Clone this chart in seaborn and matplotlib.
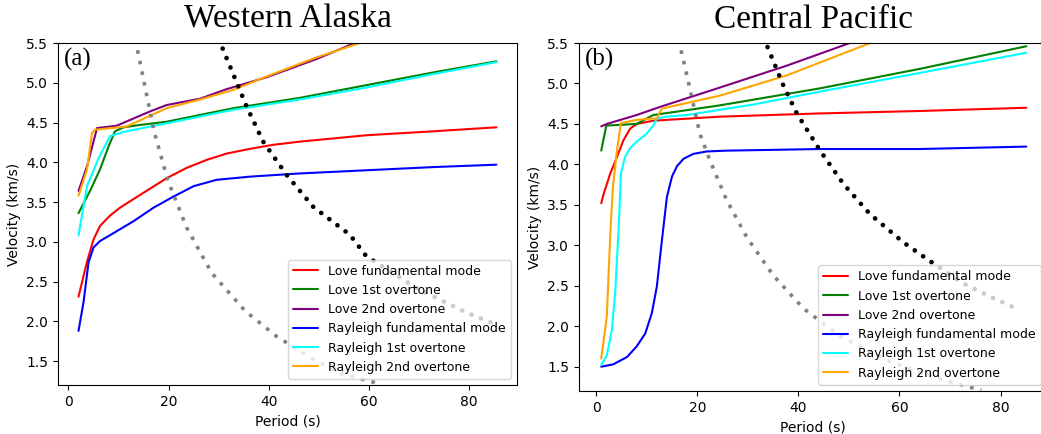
import matplotlib
matplotlib.use("Agg")
import matplotlib.pyplot as plt
import seaborn as sns
import pandas as pd

sns.set_style("ticks")
plt.rcParams['font.family'] = ['DejaVu Sans']
plt.rcParams['text.color'] = 'black'
plt.rcParams['axes.labelcolor'] = 'black'
plt.rcParams['xtick.color'] = 'black'
plt.rcParams['ytick.color'] = 'black'

labels = ["Love fundamental mode", "Love 1st overtone", "Love 2nd overtone",
          "Rayleigh fundamental mode", "Rayleigh 1st overtone", "Rayleigh 2nd overtone"]
colors = ["red", "green", "purple", "blue", "cyan", "orange"]

# ---- Western Alaska (a) ----
ak_love0_T = [2, 3.66, 5, 6.3, 8.3, 10.3, 14.3, 19.6, 23.6, 27.6, 31.6, 36.3, 40.9, 46.2, 59.5, 72.9, 85.5]
ak_love0_V = [2.31, 2.74, 3.03, 3.2, 3.33, 3.43, 3.59, 3.80, 3.93, 4.03, 4.11, 4.17, 4.22, 4.26, 4.34, 4.39, 4.44]
ak_love1_T = [2, 4.3, 6.3, 8, 9.3, 11, 14.3, 19.6, 32.9, 46.2, 59.5, 72.9, 85.5]
ak_love1_V = [3.36, 3.64, 3.91, 4.2, 4.39, 4.44, 4.47, 4.51, 4.68, 4.81, 4.97, 5.13, 5.27]
ak_love2_T = [2, 3.7, 5.7, 9.6, 16.3, 19.6, 26.3, 31.6, 39.6, 49.6, 57.2, 70, 85.5]
ak_love2_V = [3.64, 3.95, 4.43, 4.46, 4.64, 4.72, 4.80, 4.92, 5.07, 5.30, 5.50, 5.82, 6.2]
ak_ray0_T = [2, 3, 4, 5, 6.3, 9, 13, 17, 21, 25, 29.6, 36.3, 46.2, 59.5, 72.9, 85.5]
ak_ray0_V = [1.88, 2.24, 2.74, 2.93, 3.01, 3.11, 3.26, 3.43, 3.57, 3.70, 3.78, 3.82, 3.86, 3.90, 3.94, 3.97]
ak_ray1_T = [2, 3.7, 6, 8.3, 11.6, 19.6, 32.9, 46.2, 59.5, 72.9, 85.5]
ak_ray1_V = [3.08, 3.70, 4.05, 4.33, 4.39, 4.49, 4.66, 4.79, 4.94, 5.11, 5.26]
ak_ray2_T = [2, 3.7, 4.7, 5.3, 11.6, 19.6, 26.3, 32.9, 39.6, 49.6, 58.2, 70, 85.5]
ak_ray2_V = [3.58, 3.91, 4.37, 4.41, 4.45, 4.68, 4.79, 4.91, 5.08, 5.32, 5.50, 5.80, 6.2]
ak_gray_T = [13.8, 17.1, 19.8, 23.6, 28.6, 35.3, 41.6, 48.2, 54.6, 61.9]
ak_gray_V = [5.41, 4.39, 3.78, 3.18, 2.61, 2.13, 1.81, 1.55, 1.34, 1.22]
ak_black_T = [30.8, 35.6, 38.9, 43.6, 48.9, 56.2, 59.5, 69.5, 79.5, 85.5]
ak_black_V = [5.43, 4.70, 4.26, 3.84, 3.44, 3.09, 2.82, 2.42, 2.11, 1.96]

# ---- Central Pacific (b) ----
cp_love0_T = [1, 1.5, 2.8, 4.1, 5.4, 6.7, 8, 11.3, 24.5, 44.3, 64, 85.1]
cp_love0_V = [3.52, 3.64, 3.89, 4.09, 4.30, 4.44, 4.50, 4.54, 4.59, 4.63, 4.66, 4.70]
cp_love1_T = [1, 2.0, 8, 11.3, 24.5, 44.3, 64, 85.1]
cp_love1_V = [4.17, 4.48, 4.50, 4.61, 4.73, 4.94, 5.18, 5.46]
cp_love2_T = [1, 2.1, 8, 12.6, 24.5, 37.7, 50.2, 70, 85.1]
cp_love2_V = [4.47, 4.50, 4.61, 4.71, 4.95, 5.22, 5.50, 5.92, 6.25]
cp_ray0_T = [1, 3.4, 6.1, 8, 9.7, 11, 12, 13, 14, 15, 16, 17.3, 19.2, 21.9, 25.8, 44.3, 64, 85.1]
cp_ray0_V = [1.50, 1.53, 1.62, 1.75, 1.91, 2.16, 2.49, 3.06, 3.60, 3.85, 3.98, 4.07, 4.13, 4.16, 4.17, 4.19, 4.19, 4.22]
cp_ray1_T = [1, 2.1, 3.1, 3.75, 4.4, 4.9, 5.7, 6.7, 8, 10, 11.3, 12, 14, 17.9, 31.1, 44.3, 64, 85.1]
cp_ray1_V = [1.52, 1.64, 1.95, 2.41, 3.15, 3.89, 4.09, 4.20, 4.28, 4.38, 4.48, 4.57, 4.59, 4.61, 4.74, 4.90, 5.13, 5.38]
cp_ray2_T = [1, 2.1, 2.8, 3.3, 4.1, 4.9, 8, 12, 13, 24.5, 37.7, 54.2, 70, 85.1]
cp_ray2_V = [1.60, 2.12, 3.15, 3.72, 4.17, 4.51, 4.55, 4.57, 4.69, 4.85, 5.10, 5.50, 5.85, 6.18]
cp_gray_T = [16.8, 18.6, 20.5, 22.5, 25.8, 29.8, 35.0, 41.0, 48.2, 57.4, 67.3, 76.2]
cp_gray_V = [5.41, 4.92, 4.38, 4.05, 3.56, 3.10, 2.63, 2.22, 1.88, 1.58, 1.36, 1.21]
cp_black_T = [33.9, 37.0, 39.7, 44.3, 48.9, 54.1, 60.7, 65.7, 72.6, 78.5, 83.8]
cp_black_V = [5.45, 4.98, 4.63, 4.17, 3.76, 3.39, 3.04, 2.82, 2.53, 2.35, 2.20]

panels = [
    dict(title="Western Alaska", tag="(a)",
         curves=[(ak_love0_T, ak_love0_V), (ak_love1_T, ak_love1_V), (ak_love2_T, ak_love2_V),
                 (ak_ray0_T, ak_ray0_V), (ak_ray1_T, ak_ray1_V), (ak_ray2_T, ak_ray2_V)],
         gray=(ak_gray_T, ak_gray_V), black=(ak_black_T, ak_black_V),
         pos=[0.0557, 0.1129, 0.4409, 0.788], xlim=(-2.1, 89.6)),
    dict(title="Central Pacific", tag="(b)",
         curves=[(cp_love0_T, cp_love0_V), (cp_love1_T, cp_love1_V), (cp_love2_T, cp_love2_V),
                 (cp_ray0_T, cp_ray0_V), (cp_ray1_T, cp_ray1_V), (cp_ray2_T, cp_ray2_V)],
         gray=(cp_gray_T, cp_gray_V), black=(cp_black_T, cp_black_V),
         pos=[0.5562, 0.0991, 0.4496, 0.8018], xlim=(-3.4, 89.2)),
]

fig = plt.figure(figsize=(10.41, 4.34), dpi=100)

for p in panels:
    ax = fig.add_axes(p["pos"])
    for (T, V), lab, col in zip(p["curves"], labels, colors):
        df = pd.DataFrame({"T": T, "V": V})
        sns.lineplot(data=df, x="T", y="V", color=col, label=lab, lw=1.5, ax=ax, sort=False)
    gT, gV = p["gray"]
    ax.plot(gT, gV, color="gray", lw=2.6, linestyle=(0, (1, 2)))
    bT, bV = p["black"]
    ax.plot(bT, bV, color="black", lw=3.4, linestyle=(0, (0.01, 2.15)),
            dash_capstyle="round")
    ax.set_xlim(*p["xlim"])
    ax.set_ylim(1.2, 5.5)
    ax.set_yticks([1.5, 2.0, 2.5, 3.0, 3.5, 4.0, 4.5, 5.0, 5.5])
    ax.set_xticks([0, 20, 40, 60, 80])
    ax.tick_params(labelsize=10, direction="out", length=3.5, color="black")
    for s in ax.spines.values():
        s.set_color("black")
    ax.set_xlabel("Period (s)", fontsize=10)
    ax.set_ylabel("Velocity (km/s)", fontsize=10)
    ax.set_title(p["title"], family="Liberation Serif", fontsize=24, pad=11, color="black")
    ax.text(0.012, 0.985, p["tag"], transform=ax.transAxes, family="Liberation Serif",
            fontsize=18, va="top", ha="left", color="black")
    ax.legend(loc="lower right", fontsize=9)

fig.savefig("out.png", dpi=100)
